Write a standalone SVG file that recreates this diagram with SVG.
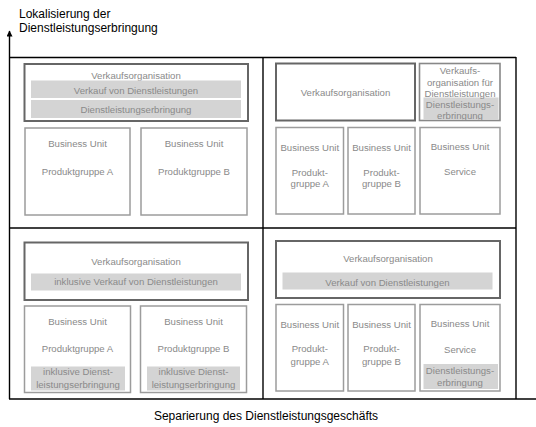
<svg xmlns="http://www.w3.org/2000/svg" width="536" height="427" viewBox="0 0 536 427">
<defs>
<marker id="arr" viewBox="0 0 10 10" refX="9" refY="5" markerWidth="7" markerHeight="6" orient="auto" markerUnits="userSpaceOnUse">
<path d="M0,0 L10,5 L0,10 Z" fill="#000"/>
</marker>
<style>
.ax{font-family:"Liberation Sans",Arial,sans-serif;font-size:12px;fill:#000}
.t{font-family:"Liberation Sans",Arial,sans-serif;font-size:9.6px;fill:#8a8a8a;text-anchor:middle}
.vo{fill:#fff;stroke:#666;stroke-width:2}
.vs{fill:#fff;stroke:#888;stroke-width:1.6}
.bu{fill:#fff;stroke:#9c9c9c;stroke-width:1.5}
.bar{fill:#d4d4d4;stroke:none}
.grid{stroke:#000;stroke-width:1.4;fill:none}
</style>
</defs>
<rect width="536" height="427" fill="#fff"/>
<g id="axes">
<text class="ax" x="19" y="18">Lokalisierung der</text>
<text class="ax" x="19" y="32">Dienstleistungserbringung</text>
<text class="ax" x="266" y="420" text-anchor="middle">Separierung des Dienstleistungsgeschäfts</text>
</g>
<g id="connectors">
<line class="grid" x1="9.5" y1="399" x2="9.5" y2="31" marker-end="url(#arr)"/>
<line class="grid" x1="9" y1="57.5" x2="516" y2="57.5"/>
<line class="grid" x1="9" y1="228" x2="516" y2="228"/>
<line class="grid" x1="9" y1="399" x2="536" y2="399" stroke="#555"/>
<line class="grid" x1="263" y1="57" x2="263" y2="399"/>
<line class="grid" x1="516" y1="57" x2="516" y2="399"/>
</g>
<g id="tl-vo">
<rect class="vo" x="24.5" y="64" width="223.5" height="57"/>
<text class="t" x="136" y="79">Verkaufsorganisation</text>
<rect class="bar" x="31" y="80.5" width="210" height="17.5"/>
<text class="t" x="136" y="93.5">Verkauf von Dienstleistungen</text>
<rect class="bar" x="31" y="100" width="210" height="18"/>
<text class="t" x="136" y="112.5">Dienstleistungserbringung</text>
</g>
<g id="tl-bu-a">
<rect class="bu" x="25" y="128" width="105" height="87"/>
<text class="t" x="77.5" y="147">Business Unit</text>
<text class="t" x="77.5" y="174.5">Produktgruppe A</text>
</g>
<g id="tl-bu-b">
<rect class="bu" x="141" y="128" width="106" height="87"/>
<text class="t" x="194" y="147">Business Unit</text>
<text class="t" x="194" y="174.5">Produktgruppe B</text>
</g>
<g id="tr-vo">
<rect class="vo" x="276" y="63.5" width="139" height="57"/>
<text class="t" x="345.5" y="96">Verkaufsorganisation</text>
</g>
<g id="tr-vo-service">
<rect class="vs" x="419.5" y="63.5" width="80.5" height="57"/>
<rect class="bar" x="423.5" y="97.5" width="75" height="22.5"/>
<text class="t" x="460" y="74">Verkaufs-</text>
<text class="t" x="460" y="86">organisation für</text>
<text class="t" x="460" y="96.8">Dienstleistungen</text>
<text class="t" x="460" y="107.5">Dienstleistungs-</text>
<text class="t" x="460" y="119.3">erbringung</text>
</g>
<g id="tr-bu-a">
<rect class="bu" x="276" y="127.5" width="67.5" height="86.5"/>
<text class="t" x="309.8" y="151">Business Unit</text>
<text class="t" x="309.8" y="175.5">Produkt-</text>
<text class="t" x="309.8" y="186.8">gruppe A</text>
</g>
<g id="tr-bu-b">
<rect class="bu" x="348" y="127.5" width="67" height="86.5"/>
<text class="t" x="381.5" y="151">Business Unit</text>
<text class="t" x="381.5" y="175.5">Produkt-</text>
<text class="t" x="381.5" y="186.8">gruppe B</text>
</g>
<g id="tr-bu-service">
<rect class="bu" x="420" y="127.5" width="80" height="86.5"/>
<text class="t" x="460" y="149.5">Business Unit</text>
<text class="t" x="460" y="175">Service</text>
</g>
<g id="bl-vo">
<rect class="vo" x="24.5" y="242.5" width="223.5" height="57.5"/>
<text class="t" x="136" y="264.5">Verkaufsorganisation</text>
<rect class="bar" x="31" y="273.5" width="210" height="17"/>
<text class="t" x="136" y="285.2">inklusive Verkauf von Dienstleistungen</text>
</g>
<g id="bl-bu-a">
<rect class="bu" x="24.5" y="306" width="106" height="86.5"/>
<rect class="bar" x="31" y="366.5" width="94" height="24"/>
<text class="t" x="77.5" y="325.2">Business Unit</text>
<text class="t" x="77.5" y="351.8">Produktgruppe A</text>
<text class="t" x="78" y="375.2">inklusive Dienst-</text>
<text class="t" x="78" y="387.5">leistungserbringung</text>
</g>
<g id="bl-bu-b">
<rect class="bu" x="140.5" y="306" width="106" height="86.5"/>
<rect class="bar" x="147" y="366.5" width="93" height="24"/>
<text class="t" x="193.5" y="325.2">Business Unit</text>
<text class="t" x="193.5" y="351.8">Produktgruppe B</text>
<text class="t" x="193.5" y="375.2">inklusive Dienst-</text>
<text class="t" x="193.5" y="387.5">leistungserbringung</text>
</g>
<g id="br-vo">
<rect class="vo" x="276" y="241" width="224" height="57"/>
<text class="t" x="388" y="261.8">Verkaufsorganisation</text>
<rect class="bar" x="282.5" y="272.5" width="210" height="17"/>
<text class="t" x="387.5" y="285.8">Verkauf von Dienstleistungen</text>
</g>
<g id="br-bu-a">
<rect class="bu" x="276" y="304.5" width="67.5" height="86.5"/>
<text class="t" x="309.8" y="327.8">Business Unit</text>
<text class="t" x="309.8" y="351.8">Produkt-</text>
<text class="t" x="309.8" y="364.5">gruppe A</text>
</g>
<g id="br-bu-b">
<rect class="bu" x="348" y="304.5" width="67" height="86.5"/>
<text class="t" x="381.5" y="327.8">Business Unit</text>
<text class="t" x="381.5" y="351.8">Produkt-</text>
<text class="t" x="381.5" y="364.5">gruppe B</text>
</g>
<g id="br-bu-service">
<rect class="bu" x="420" y="304.5" width="80" height="86.5"/>
<rect class="bar" x="423.5" y="364" width="74.5" height="25"/>
<text class="t" x="460" y="326.8">Business Unit</text>
<text class="t" x="460" y="352.5">Service</text>
<text class="t" x="460" y="374.2">Dienstleistungs-</text>
<text class="t" x="460" y="385.8">erbringung</text>
</g>
</svg>
